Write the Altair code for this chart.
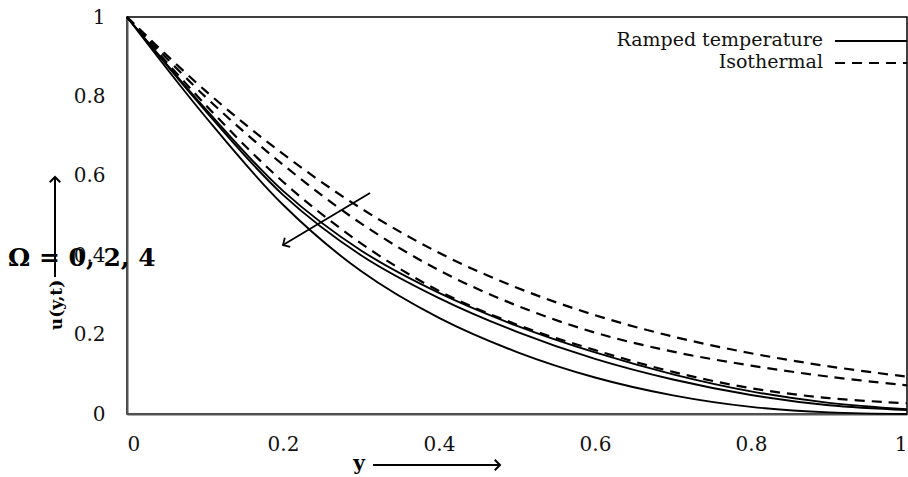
import altair as alt
import pandas as pd

# Velocity profiles u(y,t) for rotation parameter Omega = 0, 2, 4
y_grid = [0.0, 0.1, 0.2, 0.3, 0.4, 0.5, 0.6, 0.7, 0.8, 0.9, 1.0]
omegas = [0, 2, 4]

ramped_omega0 = [1.0, 0.770, 0.562, 0.412, 0.305, 0.222, 0.155, 0.100, 0.057, 0.028, 0.012]
ramped_omega2 = [1.0, 0.765, 0.552, 0.400, 0.292, 0.207, 0.139, 0.087, 0.048, 0.022, 0.010]
ramped_omega4 = [1.0, 0.750, 0.527, 0.360, 0.242, 0.156, 0.092, 0.047, 0.018, 0.004, 0.000]

iso_omega0 = [1.0, 0.815, 0.655, 0.518, 0.406, 0.318, 0.249, 0.195, 0.153, 0.120, 0.094]
iso_omega2 = [1.0, 0.800, 0.628, 0.480, 0.362, 0.273, 0.205, 0.157, 0.122, 0.094, 0.072]
iso_omega4 = [1.0, 0.780, 0.585, 0.430, 0.310, 0.225, 0.161, 0.106, 0.065, 0.040, 0.027]

axis_ticks = [0, 0.2, 0.4, 0.6, 0.8, 1]

rows = []
for kind, series in [("Ramped temperature", [ramped_omega0, ramped_omega2, ramped_omega4]),
                     ("Isothermal", [iso_omega0, iso_omega2, iso_omega4])]:
    for om, vals in zip(omegas, series):
        for yy, uu in zip(y_grid, vals):
            rows.append({"kind": kind, "omega": om, "y": yy, "u": uu})
df = pd.DataFrame(rows)

SERIF = "DejaVu Serif"

x_enc = alt.X("y:Q", scale=alt.Scale(domain=[0, 1], nice=False),
              axis=alt.Axis(values=axis_ticks, format="~g", title=None, labelPadding=20))
y_enc = alt.Y("u:Q", scale=alt.Scale(domain=[0, 1], nice=False),
              axis=alt.Axis(values=axis_ticks, format="~g", title=None, labelPadding=22))

base = alt.Chart(df)
ramped_lines = base.transform_filter(alt.datum.kind == "Ramped temperature").mark_line(
    color="black", strokeWidth=1.9, interpolate="catmull-rom"
).encode(x=x_enc, y=y_enc, detail="omega:N")

iso_lines = base.transform_filter(alt.datum.kind == "Isothermal").mark_line(
    color="black", strokeWidth=2.2, strokeDash=[10, 7], interpolate="catmull-rom"
).encode(x=x_enc, y=y_enc, detail="omega:N")

one = pd.DataFrame({"k": [0]})
ann = alt.Chart(one)

# legend entries
leg_text1 = ann.mark_text(align="right", baseline="middle", font=SERIF, fontSize=19, color="#111").encode(
    x=alt.value(696), y=alt.value(23), text=alt.value("Ramped temperature"))
leg_text2 = ann.mark_text(align="right", baseline="middle", font=SERIF, fontSize=19, color="#111").encode(
    x=alt.value(696), y=alt.value(45), text=alt.value("Isothermal"))
leg_rule1 = ann.mark_rule(color="black", strokeWidth=2).encode(
    x=alt.value(708), x2=alt.value(780), y=alt.value(24))
leg_rule2 = ann.mark_rule(color="black", strokeWidth=2, strokeDash=[10, 7]).encode(
    x=alt.value(708), x2=alt.value(780), y=alt.value(46))

chevron = "M -1 -1 L 0 0 L -1 1"

# arrow across the curves showing increasing Omega
diag = ann.mark_rule(color="black", strokeWidth=1.8).encode(
    x=alt.value(243), y=alt.value(176), x2=alt.value(156), y2=alt.value(228))
diag_head = ann.mark_point(shape=chevron, filled=False, size=110, angle=149,
                           color="black", strokeWidth=1.8, opacity=1).encode(
    x=alt.value(156), y=alt.value(228))

omega_text = ann.mark_text(align="left", baseline="middle", font=SERIF, fontSize=25,
                           fontWeight="bold", color="black").encode(
    x=alt.value(-119), y=alt.value(241), text=alt.value("Ω = 0, 2, 4"))

# axis title arrows
y_arrow = ann.mark_rule(color="black", strokeWidth=2).encode(
    x=alt.value(-72), y=alt.value(260), y2=alt.value(160))
y_head = ann.mark_point(shape=chevron, filled=False, size=110, angle=270,
                        color="black", strokeWidth=2, opacity=1).encode(
    x=alt.value(-72), y=alt.value(160))
y_title = ann.mark_text(angle=270, align="center", baseline="middle", font=SERIF, fontSize=17,
                        fontWeight="bold", color="black").encode(
    x=alt.value(-70), y=alt.value(288), text=alt.value("u(y,t)"))

x_title = ann.mark_text(align="center", baseline="middle", font=SERIF, fontSize=20,
                        fontWeight="bold", color="black").encode(
    x=alt.value(232), y=alt.value(447), text=alt.value("y"))
x_arrow = ann.mark_rule(color="black", strokeWidth=2).encode(
    x=alt.value(246), x2=alt.value(373), y=alt.value(448))
x_head = ann.mark_point(shape=chevron, filled=False, size=110, angle=0,
                        color="black", strokeWidth=2, opacity=1).encode(
    x=alt.value(373), y=alt.value(448))

chart = alt.layer(
    iso_lines, ramped_lines,
    leg_text1, leg_text2, leg_rule1, leg_rule2,
    diag, diag_head, omega_text,
    y_arrow, y_head, y_title,
    x_title, x_arrow, x_head,
).properties(
    width=780, height=397,
    padding={"left": 127, "top": 17, "right": 1, "bottom": 63},
    autosize=alt.AutoSizeParams(type="none"),
    background="white",
).configure_view(
    stroke="black", strokeWidth=1.5
).configure_axis(
    grid=False, ticks=False, domainColor="#555", domainWidth=2,
    labelFont=SERIF, labelFontSize=20, labelColor="#111",
)

chart.save("out.html", embed_options={"renderer": "svg", "actions": False})
